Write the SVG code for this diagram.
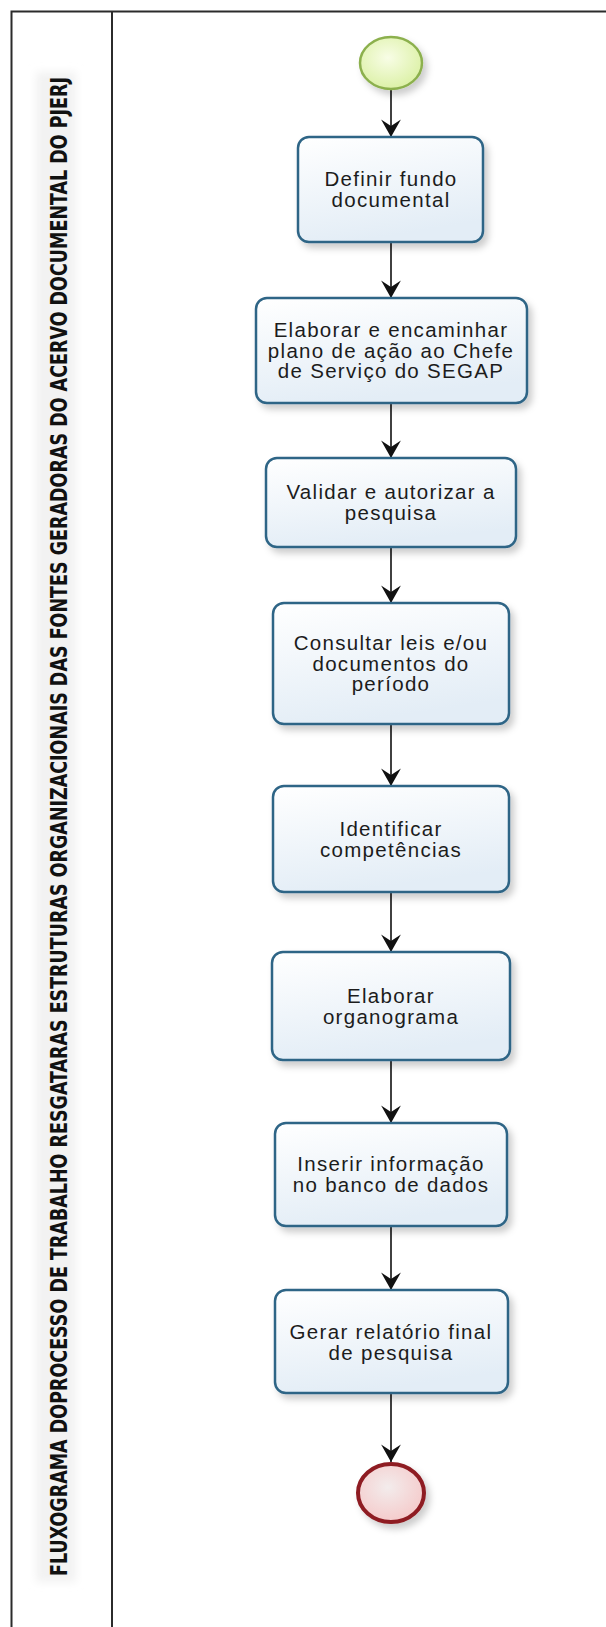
<svg xmlns="http://www.w3.org/2000/svg" width="606" height="1627" viewBox="0 0 606 1627">
  <defs>
    <style>
      .pool { fill: none; stroke: #2b2b2b; stroke-width: 2; }
      .title { font-family: "DejaVu Sans Condensed", "DejaVu Sans", sans-serif; font-weight: bold; font-size: 20px; fill: #111; }
      .task rect { fill: url(#taskFill); stroke: #2f6586; stroke-width: 2.5; filter: url(#shadow); }
      .task text { font-family: "Liberation Sans", Arial, sans-serif; font-size: 20.5px; letter-spacing: 1.3px; fill: #1c1c1c; text-anchor: middle; }
      .flow { fill: none; stroke: #111; stroke-width: 1.6; marker-end: url(#arrow); }
    </style>
    <linearGradient id="taskFill" x1="0" y1="0" x2="0.3" y2="1">
      <stop offset="0" stop-color="#ffffff"/>
      <stop offset="1" stop-color="#e3edf6"/>
    </linearGradient>
    <radialGradient id="startFill" cx="0.45" cy="0.4" r="0.65">
      <stop offset="0" stop-color="#f8fde6"/>
      <stop offset="1" stop-color="#daf0a2"/>
    </radialGradient>
    <radialGradient id="endFill" cx="0.45" cy="0.4" r="0.65">
      <stop offset="0" stop-color="#f3ecec"/>
      <stop offset="1" stop-color="#f5c8c8"/>
    </radialGradient>
    <filter id="shadow" x="-20%" y="-20%" width="150%" height="150%">
      <feDropShadow dx="4" dy="5" stdDeviation="3.5" flood-color="#000" flood-opacity="0.2"/>
    </filter>
    <filter id="haze" x="-30%" y="-5%" width="160%" height="110%">
      <feGaussianBlur stdDeviation="4"/>
    </filter>
    <marker id="arrow" markerUnits="userSpaceOnUse" markerWidth="20" markerHeight="22" viewBox="-17 -10 18 20" refX="0" refY="0" orient="auto">
      <path d="M0,0 L-16,-9 L-10,0 L-16,9 Z" fill="#111"/>
    </marker>
  </defs>

  <rect width="606" height="1627" fill="#ffffff"/>

  <!-- pool and lane header -->
  <g id="pool">
    <rect x="36" y="72" width="40" height="1510" fill="#f2f2f2" filter="url(#haze)"/>
    <path class="pool" d="M11.5,1627 V11.5 H606 M112,11.5 V1627"/>
    <text class="title" transform="translate(67,826.5) rotate(-90) scale(1,1.15)" text-anchor="middle" textLength="1499" lengthAdjust="spacingAndGlyphs">FLUXOGRAMA DOPROCESSO DE TRABALHO RESGATARAS ESTRUTURAS ORGANIZACIONAIS DAS FONTES GERADORAS DO ACERVO DOCUMENTAL DO PJERJ</text>
  </g>

  <!-- sequence flows -->
  <g id="connectors">
    <line class="flow" x1="391" y1="90" x2="391" y2="137"/>
    <line class="flow" x1="391" y1="242" x2="391" y2="298"/>
    <line class="flow" x1="391" y1="403" x2="391" y2="458"/>
    <line class="flow" x1="391" y1="547" x2="391" y2="603"/>
    <line class="flow" x1="391" y1="724" x2="391" y2="786"/>
    <line class="flow" x1="391" y1="892" x2="391" y2="952"/>
    <line class="flow" x1="391" y1="1060" x2="391" y2="1123"/>
    <line class="flow" x1="391" y1="1226" x2="391" y2="1290"/>
    <line class="flow" x1="391" y1="1393" x2="391" y2="1462"/>
  </g>

  <g id="start">
    <ellipse cx="391" cy="63" rx="31" ry="26" fill="url(#startFill)" stroke="#8cb04e" stroke-width="2.5" filter="url(#shadow)"/>
  </g>

  <g id="task1" class="task">
    <rect x="298" y="137" width="185" height="105" rx="11"/>
    <text x="391" y="186">Definir fundo</text>
    <text x="391" y="207">documental</text>
  </g>

  <g id="task2" class="task">
    <rect x="256" y="298" width="271" height="105" rx="11"/>
    <text x="391" y="337">Elaborar e encaminhar</text>
    <text x="391" y="357.5">plano de ação ao Chefe</text>
    <text x="391" y="378">de Serviço do SEGAP</text>
  </g>

  <g id="task3" class="task">
    <rect x="266" y="458" width="250" height="89" rx="11"/>
    <text x="391" y="499">Validar e autorizar a</text>
    <text x="391" y="520">pesquisa</text>
  </g>

  <g id="task4" class="task">
    <rect x="273" y="603" width="236" height="121" rx="11"/>
    <text x="391" y="650">Consultar leis e/ou</text>
    <text x="391" y="670.5">documentos do</text>
    <text x="391" y="691">período</text>
  </g>

  <g id="task5" class="task">
    <rect x="273" y="786" width="236" height="106" rx="11"/>
    <text x="391" y="835.5">Identificar</text>
    <text x="391" y="856.5">competências</text>
  </g>

  <g id="task6" class="task">
    <rect x="272" y="952" width="238" height="108" rx="11"/>
    <text x="391" y="1002.5">Elaborar</text>
    <text x="391" y="1023.5">organograma</text>
  </g>

  <g id="task7" class="task">
    <rect x="275" y="1123" width="232" height="103" rx="11"/>
    <text x="391" y="1171">Inserir informação</text>
    <text x="391" y="1192">no banco de dados</text>
  </g>

  <g id="task8" class="task">
    <rect x="275" y="1290" width="233" height="103" rx="11"/>
    <text x="391" y="1338.5">Gerar relatório final</text>
    <text x="391" y="1359.5">de pesquisa</text>
  </g>

  <g id="end">
    <ellipse cx="391" cy="1493" rx="33" ry="29" fill="url(#endFill)" stroke="#8e1b22" stroke-width="4" filter="url(#shadow)"/>
  </g>
</svg>
